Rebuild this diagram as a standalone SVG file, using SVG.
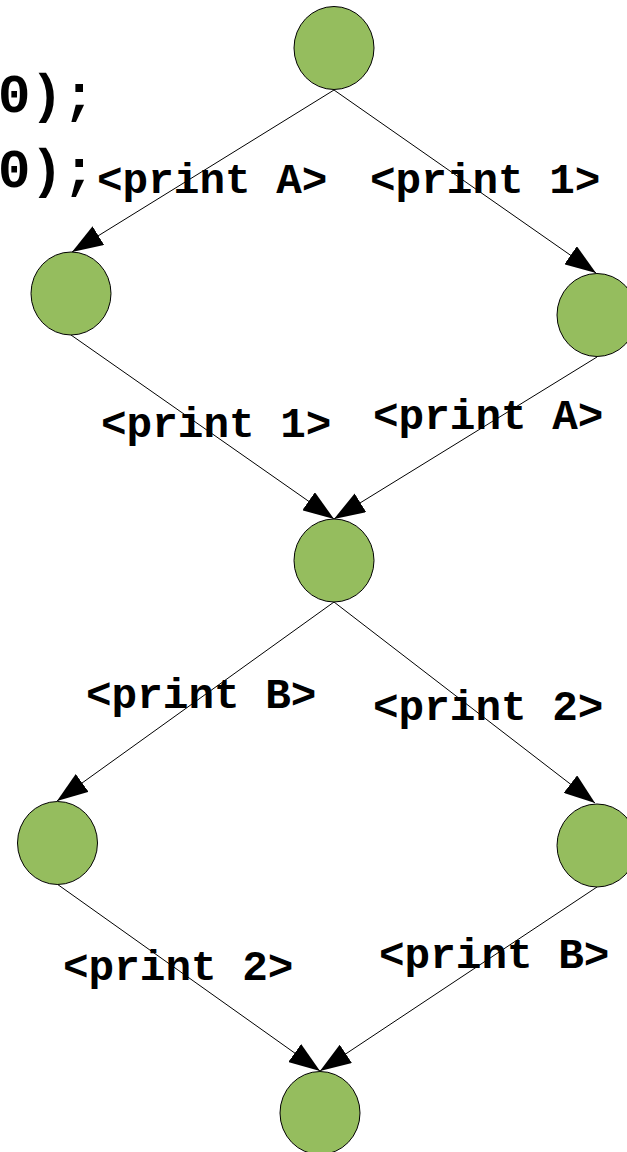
<svg xmlns="http://www.w3.org/2000/svg" width="627" height="1152" viewBox="0 0 627 1152">
  <style>
    .node { fill: #95bd5e; stroke: #000; stroke-width: 1; }
    .edge { stroke: #000; stroke-width: 1; fill: none; marker-end: url(#arrow); }
    .lbl { font-family: "Liberation Mono", "DejaVu Sans Mono", monospace; font-weight: bold; font-size: 42.67px; fill: #000; }
    .code { font-family: "Liberation Mono", "DejaVu Sans Mono", monospace; font-weight: bold; font-size: 54px; fill: #000; }
  </style>
  <defs>
    <marker id="arrow" markerUnits="userSpaceOnUse" markerWidth="31" markerHeight="22" viewBox="0 0 31 22" refX="31" refY="11" orient="auto">
      <path d="M0,0 L31,11 L0,22 Z" fill="#000"/>
    </marker>
  </defs>
  <rect width="627" height="1152" fill="#fff"/>
  <g id="code-text">
    <text class="code" x="-2" y="112">0);</text>
    <text class="code" x="-2" y="187">0);</text>
  </g>
  <g id="connectors">
    <line class="edge" x1="334" y1="90" x2="72" y2="252"/>
    <line class="edge" x1="334" y1="90" x2="596" y2="273"/>
    <line class="edge" x1="71" y1="335" x2="334" y2="519"/>
    <line class="edge" x1="597" y1="357" x2="334" y2="519"/>
    <line class="edge" x1="334" y1="602" x2="57" y2="801"/>
    <line class="edge" x1="334" y1="602" x2="595" y2="803"/>
    <line class="edge" x1="57" y1="884" x2="320" y2="1071"/>
    <line class="edge" x1="597" y1="887" x2="320" y2="1071"/>
  </g>
  <g id="labels">
    <text class="lbl" x="97" y="193">&lt;print A&gt;</text>
    <text class="lbl" x="370" y="193">&lt;print 1&gt;</text>
    <text class="lbl" x="101" y="437">&lt;print 1&gt;</text>
    <text class="lbl" x="373" y="429">&lt;print A&gt;</text>
    <text class="lbl" x="86" y="708">&lt;print B&gt;</text>
    <text class="lbl" x="373" y="720">&lt;print 2&gt;</text>
    <text class="lbl" x="63" y="980">&lt;print 2&gt;</text>
    <text class="lbl" x="379" y="968">&lt;print B&gt;</text>
  </g>
  <g id="node-top"><ellipse class="node" cx="334" cy="48" rx="40" ry="41.5"/></g>
  <g id="node-left1"><ellipse class="node" cx="71" cy="293.5" rx="40" ry="41.5"/></g>
  <g id="node-right1"><ellipse class="node" cx="597" cy="315" rx="40" ry="41.5"/></g>
  <g id="node-middle"><ellipse class="node" cx="334" cy="560.5" rx="40" ry="41.5"/></g>
  <g id="node-left2"><ellipse class="node" cx="57.5" cy="843" rx="40" ry="41.5"/></g>
  <g id="node-right2"><ellipse class="node" cx="597" cy="845.5" rx="40" ry="41.5"/></g>
  <g id="node-bottom"><ellipse class="node" cx="320" cy="1113" rx="40" ry="41.5"/></g>
</svg>
